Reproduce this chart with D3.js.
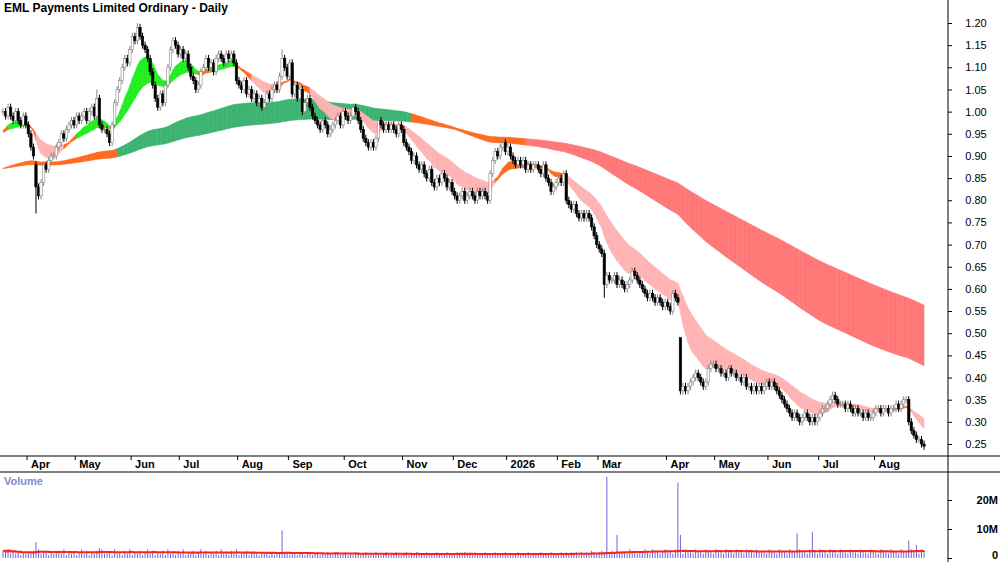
<!DOCTYPE html>
<html>
<head>
<meta charset="utf-8">
<script src="https://cdn.jsdelivr.net/npm/d3@7"></script>
<style>
  body { margin: 0; background: #fff; }
  svg { font-family: Arial, "Liberation Sans", sans-serif; }
</style>
</head>
<body>
<div id="chart"></div>
<script>
"use strict";

// daily closes (one per trading day)
const closes = [
  1.00,0.99,1.01,0.99,0.98,1.00,0.98,0.97,0.99,0.97,
  0.95,0.92,0.90,0.83,0.81,0.84,0.88,0.87,0.89,0.90,
  0.90,0.92,0.93,0.95,0.94,0.96,0.97,0.98,0.97,0.99,
  0.98,0.99,1.00,0.98,1.00,1.01,0.99,1.03,0.97,0.96,
  0.96,0.95,0.93,0.97,1.02,1.05,1.07,1.10,1.12,1.11,
  1.14,1.17,1.16,1.19,1.17,1.15,1.14,1.12,1.09,1.06,
  1.03,1.01,1.04,1.02,1.06,1.10,1.14,1.16,1.15,1.13,
  1.14,1.12,1.13,1.10,1.08,1.07,1.05,1.06,1.09,1.10,
  1.12,1.10,1.11,1.09,1.12,1.13,1.12,1.11,1.13,1.12,
  1.13,1.11,1.07,1.06,1.05,1.07,1.04,1.05,1.03,1.04,
  1.02,1.03,1.01,1.02,1.04,1.03,1.05,1.06,1.05,1.08,
  1.12,1.10,1.08,1.11,1.04,1.06,1.03,1.05,1.00,1.02,
  1.03,1.01,0.99,0.98,0.97,0.96,0.98,0.97,0.95,0.96,
  0.97,0.98,0.99,0.97,1.00,0.99,0.98,0.99,1.01,1.00,
  0.98,0.96,0.94,0.93,0.92,0.93,0.92,0.94,0.98,0.97,
  0.96,0.97,0.96,0.97,0.96,0.95,0.97,0.96,0.93,0.92,
  0.91,0.89,0.90,0.88,0.87,0.88,0.86,0.85,0.87,0.84,
  0.83,0.85,0.84,0.86,0.85,0.83,0.84,0.82,0.81,0.80,
  0.81,0.82,0.80,0.81,0.82,0.81,0.80,0.82,0.81,0.82,
  0.81,0.80,0.86,0.89,0.91,0.90,0.92,0.93,0.91,0.92,
  0.90,0.89,0.88,0.89,0.88,0.89,0.87,0.88,0.87,0.88,
  0.88,0.87,0.86,0.88,0.85,0.84,0.82,0.83,0.84,0.85,
  0.84,0.86,0.80,0.79,0.78,0.79,0.77,0.76,0.77,0.76,
  0.77,0.76,0.74,0.72,0.70,0.69,0.68,0.61,0.63,0.62,
  0.62,0.63,0.61,0.62,0.61,0.60,0.61,0.62,0.64,0.63,
  0.62,0.61,0.60,0.59,0.58,0.59,0.58,0.57,0.58,0.57,
  0.56,0.57,0.56,0.55,0.59,0.58,0.57,0.37,0.38,0.37,
  0.38,0.39,0.40,0.41,0.40,0.39,0.38,0.39,0.42,0.43,
  0.43,0.42,0.42,0.41,0.41,0.40,0.42,0.41,0.41,0.40,
  0.40,0.39,0.40,0.38,0.38,0.37,0.38,0.37,0.38,0.37,
  0.38,0.39,0.38,0.39,0.38,0.37,0.36,0.35,0.34,0.33,
  0.32,0.31,0.32,0.31,0.30,0.31,0.32,0.31,0.30,0.31,
  0.30,0.31,0.32,0.33,0.33,0.34,0.35,0.36,0.35,0.34,
  0.34,0.34,0.33,0.34,0.33,0.32,0.33,0.32,0.32,0.31,
  0.32,0.31,0.31,0.32,0.33,0.33,0.32,0.33,0.33,0.32,
  0.33,0.33,0.34,0.33,0.34,0.35,0.35,0.30,0.28,0.27,
  0.26,0.26,0.25,0.245
];

// bars with long wicks / gap opens
const openOverride = { 13: 0.88, 237: 0.68, 267: 0.49 };
const lowOverride = { 13: 0.77, 237: 0.58 };
const highOverride = { 53: 1.20, 110: 1.14, 37: 1.05, 267: 0.49 };

// volume in units of 0.5M per bar, plus spikes in millions
const volDigits =
  "5463534243435263452434536243524635243526345263425362435246352435263425362435246352435263425362435243" +
  "3243423243234243234243234232432432342324323423243224232432342324232423243234232432423242324232423243" +
  "2324232423324232423243424342434354345434543454365434564365435645365436543654365436543654365436543654" +
  "4365436543654365436543654365436543654365436543654365436543654365";
const volSpikes = { 13: 5.5, 38: 3.5, 110: 9.5, 238: 28, 242: 8, 266: 26, 267: 8, 313: 8.5, 319: 9, 357: 6, 360: 4.5 };

const monthLabels = ["Apr","May","Jun","Jul","Aug","Sep","Oct","Nov","Dec","2026","Feb","Mar","Apr","May","Jun","Jul","Aug"];
const monthIndex = [10, 29, 51, 70, 93, 113, 135, 158, 178, 199, 219, 235, 262, 281, 302, 322, 344];
const priceTicks = d3.range(0.25, 1.2001, 0.05);
const volTicks = [0, 10, 20];

const shortPeriods = [12, 15, 18, 21, 25, 30];
const longPeriods = [125, 140, 160, 185, 210, 240];

// ---- build bars
const bars = closes.map((c, i) => {
  const o = openOverride[i] !== undefined ? openOverride[i] : (i ? closes[i - 1] : c);
  const hi = highOverride[i] !== undefined ? highOverride[i] : Math.max(o, c) + 0.008;
  const lo = lowOverride[i] !== undefined ? lowOverride[i] : Math.min(o, c) - 0.008;
  const v = volSpikes[i] !== undefined ? volSpikes[i] : +volDigits[i] * 0.5;
  return { i, o, c, hi, lo, v };
});

function ema(period, seed) {
  const a = 2 / (period + 1);
  let e = seed;
  return closes.map(c => (e = e + a * (c - e)));
}
const shortE = shortPeriods.map(p => ema(p, 0.95));
const longE = longPeriods.map(p => ema(p, 0.87));
const groupBand = (E) => closes.map((_, i) => {
  const vals = E.map(s => s[i]);
  return { i, lo: d3.min(vals), hi: d3.max(vals), fast: E[0][i], slow: E[E.length - 1][i] };
});
const shortBand = groupBand(shortE);
const longBand = groupBand(longE);

const W = 1000, H = 562;
const plotR = 948;
const x = d3.scaleLinear().domain([0, closes.length - 1]).range([3, 924]);
const y = d3.scaleLinear().domain([0.25, 1.20]).range([444, 23]);
const yv = d3.scaleLinear().domain([0, 20]).range([558, 500]);

const svg = d3.select("#chart").append("svg").attr("width", W).attr("height", H);

// ---- ribbons, drawn as segments coloured by trend
function drawRibbon(band, colorOf) {
  const area = d3.area().x(d => x(d.i)).y0(d => y(d.lo)).y1(d => y(d.hi));
  for (let i = 0; i < band.length - 1; i++) {
    const col = colorOf(band[i], i);
    svg.append("path")
      .datum([band[i], band[i + 1]])
      .attr("d", area)
      .attr("fill", col)
      .attr("stroke", col)
      .attr("stroke-width", 0.6);
  }
}
drawRibbon(longBand, d => {
  const r = (d.fast - d.slow) / d.slow;
  return r > 0.02 ? "#3cb371" : r < -0.015 ? "#ff7777" : "#ff6a1f";
});
drawRibbon(shortBand, (d, i) => {
  const r = (d.fast - d.slow) / d.slow;
  const above = d.lo > longBand[i].hi;
  if (r > 0.008) return above ? "#22ee22" : "#ff6a1f";
  if (r < -0.012) return "#ffb3b3";
  return "#ff6a1f";
});

// ---- candles
const cg = svg.append("g");
cg.selectAll("line").data(bars).join("line")
  .attr("x1", d => x(d.i)).attr("x2", d => x(d.i))
  .attr("y1", d => y(d.hi)).attr("y2", d => y(d.lo))
  .attr("stroke", d => d.c >= d.o ? "#888" : "#000").attr("stroke-width", 1);
cg.selectAll("rect").data(bars).join("rect")
  .attr("x", d => x(d.i) - 1.2).attr("width", 2.4)
  .attr("y", d => y(Math.max(d.o, d.c)))
  .attr("height", d => Math.max(1, y(Math.min(d.o, d.c)) - y(Math.max(d.o, d.c))))
  .attr("fill", d => d.c >= d.o ? "#fff" : "#000")
  .attr("stroke", d => d.c >= d.o ? "#888" : "#000").attr("stroke-width", 0.6);

// ---- frame
svg.append("line").attr("x1", plotR).attr("x2", plotR).attr("y1", 0).attr("y2", H).attr("stroke", "#000");
svg.append("line").attr("x1", 0).attr("x2", W).attr("y1", 456).attr("y2", 456).attr("stroke", "#000");
svg.append("line").attr("x1", 0).attr("x2", W).attr("y1", 472).attr("y2", 472).attr("stroke", "#000");

svg.append("text").attr("x", 4).attr("y", 12).attr("font-size", 12).attr("font-weight", "bold")
  .text("EML Payments Limited Ordinary - Daily");

// price axis
const pa = svg.append("g").attr("transform", `translate(${plotR},0)`)
  .call(d3.axisRight(y).tickValues(priceTicks).tickFormat(d3.format(".2f")).tickSize(4));
pa.select(".domain").remove();
pa.selectAll("text").attr("font-size", 11).attr("x", 28).attr("text-anchor", "middle").attr("font-family", "Arial");

// date axis
const dg = svg.append("g");
monthIndex.forEach((mi, k) => {
  const xx = x(mi) - 1.3;
  dg.append("line").attr("x1", xx).attr("x2", xx).attr("y1", 456).attr("y2", 460).attr("stroke", "#000");
  dg.append("text").attr("x", xx + 4).attr("y", 468).attr("font-size", 11).attr("font-weight", "bold")
    .attr("font-family", "Arial").text(monthLabels[k]);
});

// ---- volume
svg.append("text").attr("x", 4).attr("y", 485).attr("font-size", 11).attr("font-weight", "bold")
  .attr("fill", "#8888cc").text("Volume");
svg.append("g").selectAll("line").data(bars).join("line")
  .attr("x1", d => x(d.i)).attr("x2", d => x(d.i))
  .attr("y1", yv(0)).attr("y2", d => yv(d.v))
  .attr("stroke", "#6a6ad8").attr("stroke-width", 1);
const volMA = bars.map((d, i) => ({ i, m: d3.mean(bars.slice(Math.max(0, i - 29), i + 1), b => Math.min(b.v, 4)) }));
svg.append("path").datum(volMA)
  .attr("d", d3.line().x(d => x(d.i)).y(d => yv(d.m)).curve(d3.curveStepAfter))
  .attr("fill", "none").attr("stroke", "#ff2020").attr("stroke-width", 2);
const va = svg.append("g").attr("transform", `translate(${plotR},0)`)
  .call(d3.axisRight(yv).tickValues(volTicks).tickFormat(d => d === 0 ? "0" : d + "M").tickSize(4));
va.select(".domain").remove();
va.selectAll("text").attr("font-size", 11).attr("font-weight", "bold").attr("x", 50)
  .attr("dy", d => d === 0 ? "0" : "0.32em").attr("text-anchor", "end").attr("font-family", "Arial");
</script>
</body>
</html>
